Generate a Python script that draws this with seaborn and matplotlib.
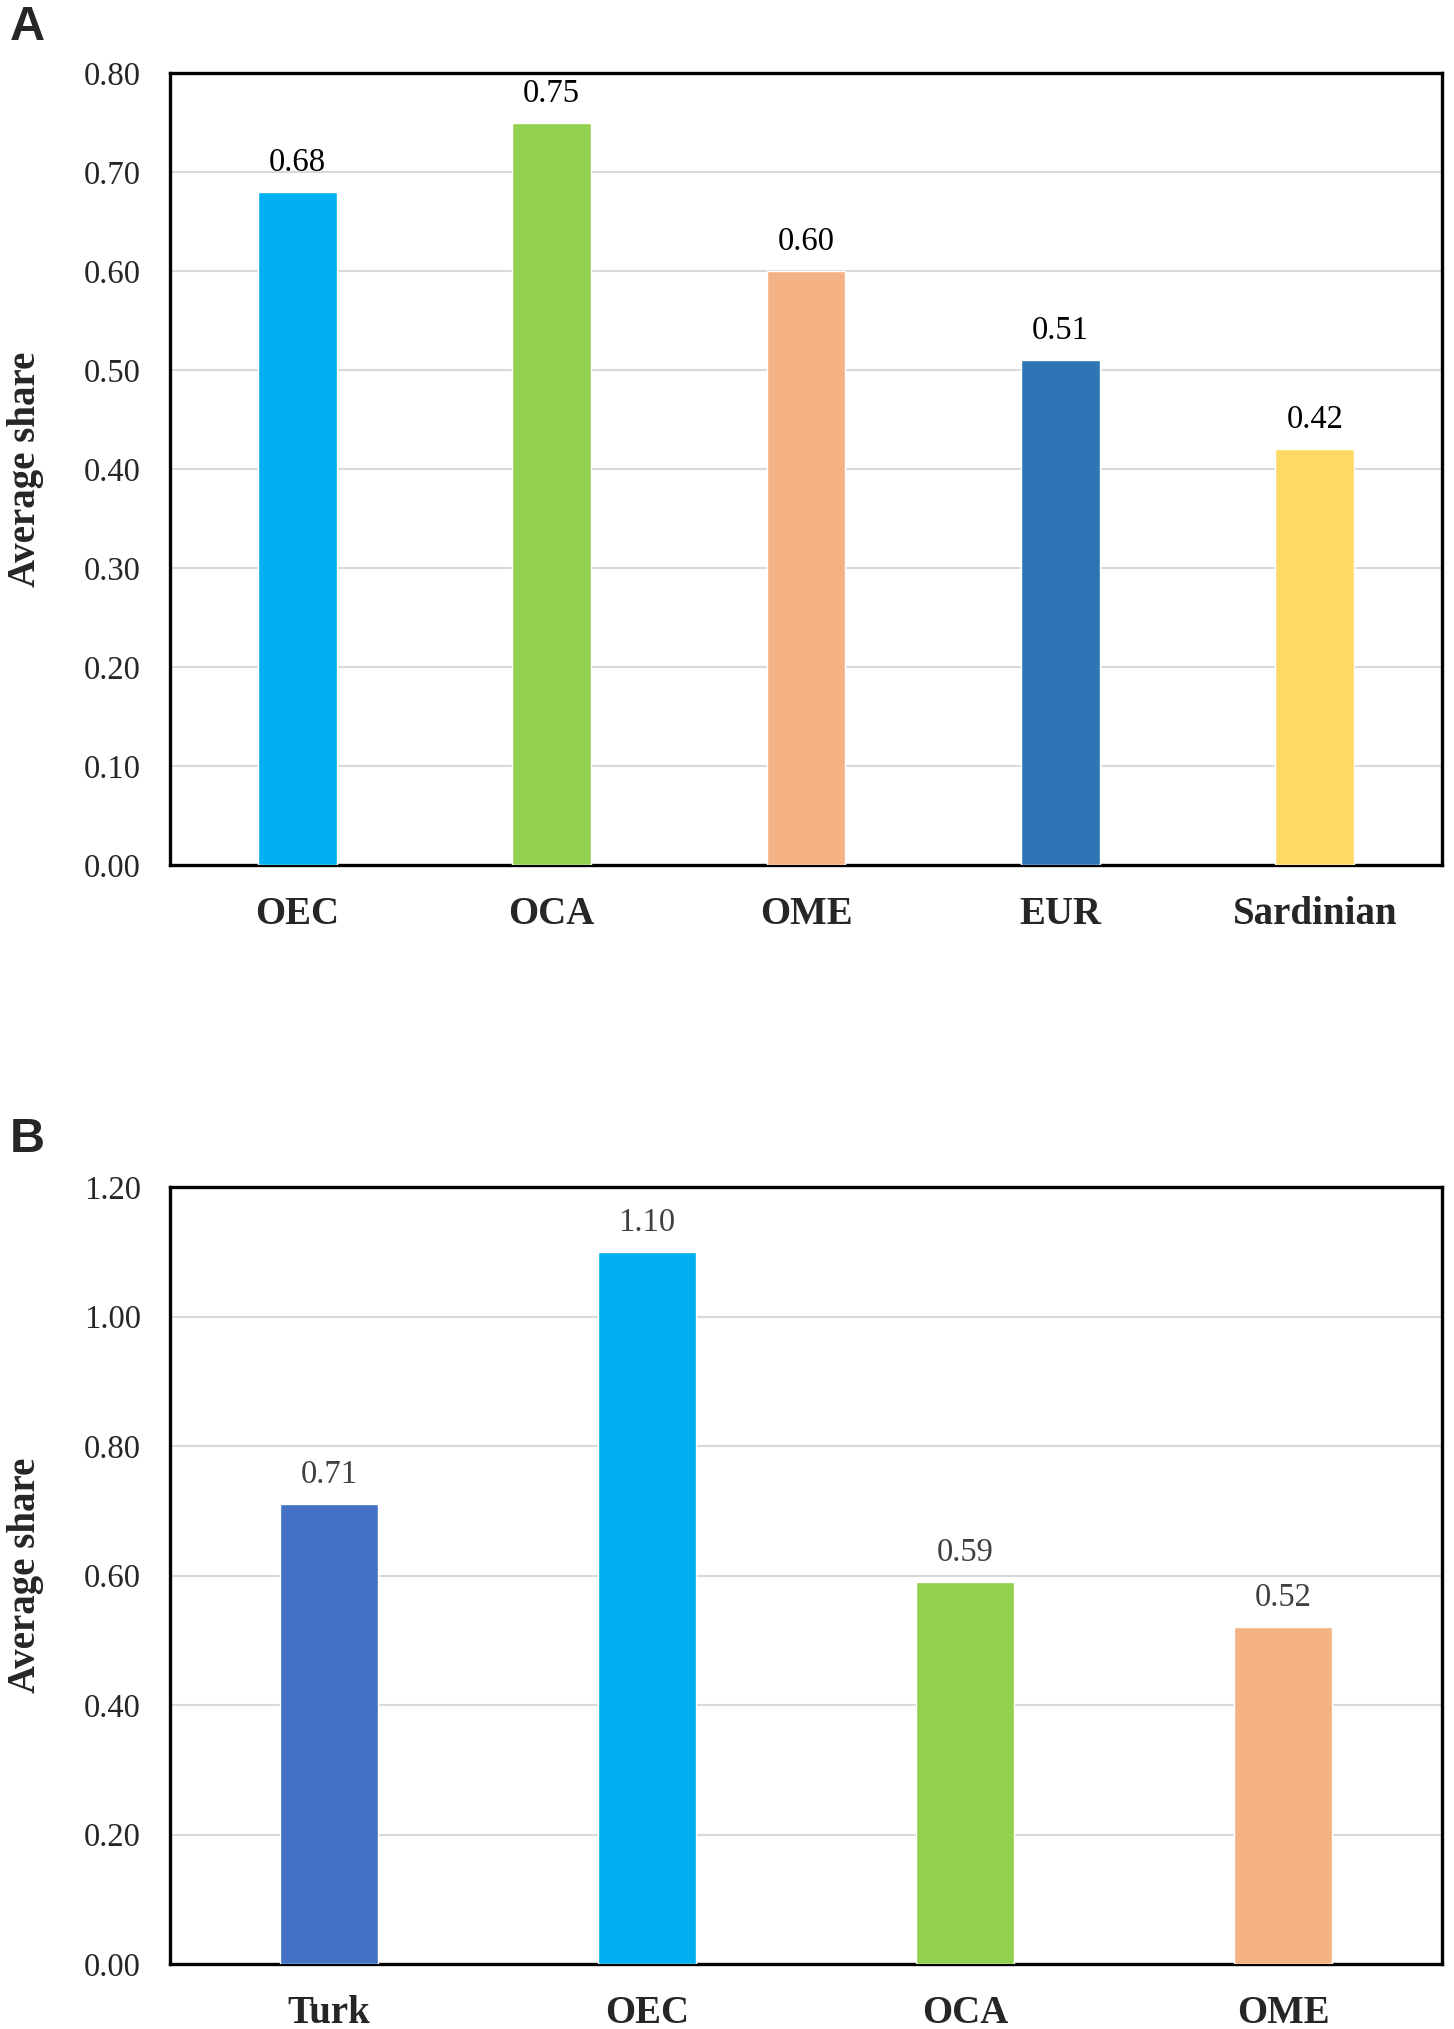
import matplotlib
matplotlib.use("Agg")
import matplotlib.pyplot as plt
import seaborn as sns
import numpy as np
import pandas as pd
from matplotlib.ticker import FormatStrFormatter, MultipleLocator

# ---- data ----
cats_a = ["OEC", "OCA", "OME", "EUR", "Sardinian"]
vals_a = [0.68, 0.75, 0.60, 0.51, 0.42]
cols_a = ["#00B0F0", "#92D050", "#F4B183", "#2E75B6", "#FFD966"]

cats_b = ["Turk", "OEC", "OCA", "OME"]
vals_b = [0.71, 1.10, 0.59, 0.52]
cols_b = ["#4472C4", "#00B0F0", "#92D050", "#F4B183"]

sns.set_theme(style="white")
plt.rcParams["font.family"] = ["Liberation Serif", "DejaVu Serif"]

W, H = 1454, 2029
fig = plt.figure(figsize=(W / 100, H / 100), dpi=100)


def make_axes(top_px, bottom_px, left_px=170, right_px=1442):
    return fig.add_axes([left_px / W, 1 - bottom_px / H,
                         (right_px - left_px) / W, (bottom_px - top_px) / H])


def draw(ax, cats, vals, cols, ymax, step, label_color):
    df = pd.DataFrame({"cat": cats, "val": vals})
    sns.barplot(data=df, x="cat", y="val", hue="cat", palette=cols,
                order=cats, hue_order=cats, width=0.31, legend=False,
                saturation=1, ax=ax, zorder=3)
    ax.set_ylim(0, ymax)
    ax.yaxis.set_major_locator(MultipleLocator(step))
    ax.yaxis.set_major_formatter(FormatStrFormatter("%.2f"))
    ax.grid(axis="y", color="#D9D9D9", linewidth=1.5, zorder=0)
    ax.set_axisbelow(True)
    for s in ax.spines.values():
        s.set_visible(True)
        s.set_color("black")
        s.set_linewidth(2.4)
    ax.tick_params(axis="both", length=0)
    ax.tick_params(axis="y", labelsize=23.5, pad=21)
    ax.tick_params(axis="x", labelsize=28, pad=22)
    for t in ax.get_xticklabels():
        t.set_fontweight("bold")
    ax.set_xlabel("")
    ax.set_ylabel("Average share", fontsize=28, fontweight="bold")
    ax.yaxis.set_label_coords(-0.099, 0.5)
    for c in ax.containers:
        ax.bar_label(c, fmt="%.2f", padding=10, fontsize=23.5, color=label_color)


axA = make_axes(73, 865)
draw(axA, cats_a, vals_a, cols_a, 0.8, 0.1, "black")
axB = make_axes(1187, 1964)
draw(axB, cats_b, vals_b, cols_b, 1.2, 0.2, "#404040")

fig.text(10 / W, 1 - 5 / H, "A", fontsize=35, fontweight="bold",
         family="Liberation Sans", ha="left", va="top")
fig.text(10 / W, 1 - 1117 / H, "B", fontsize=35, fontweight="bold",
         family="Liberation Sans", ha="left", va="top")

fig.savefig("out.png", dpi=100)
